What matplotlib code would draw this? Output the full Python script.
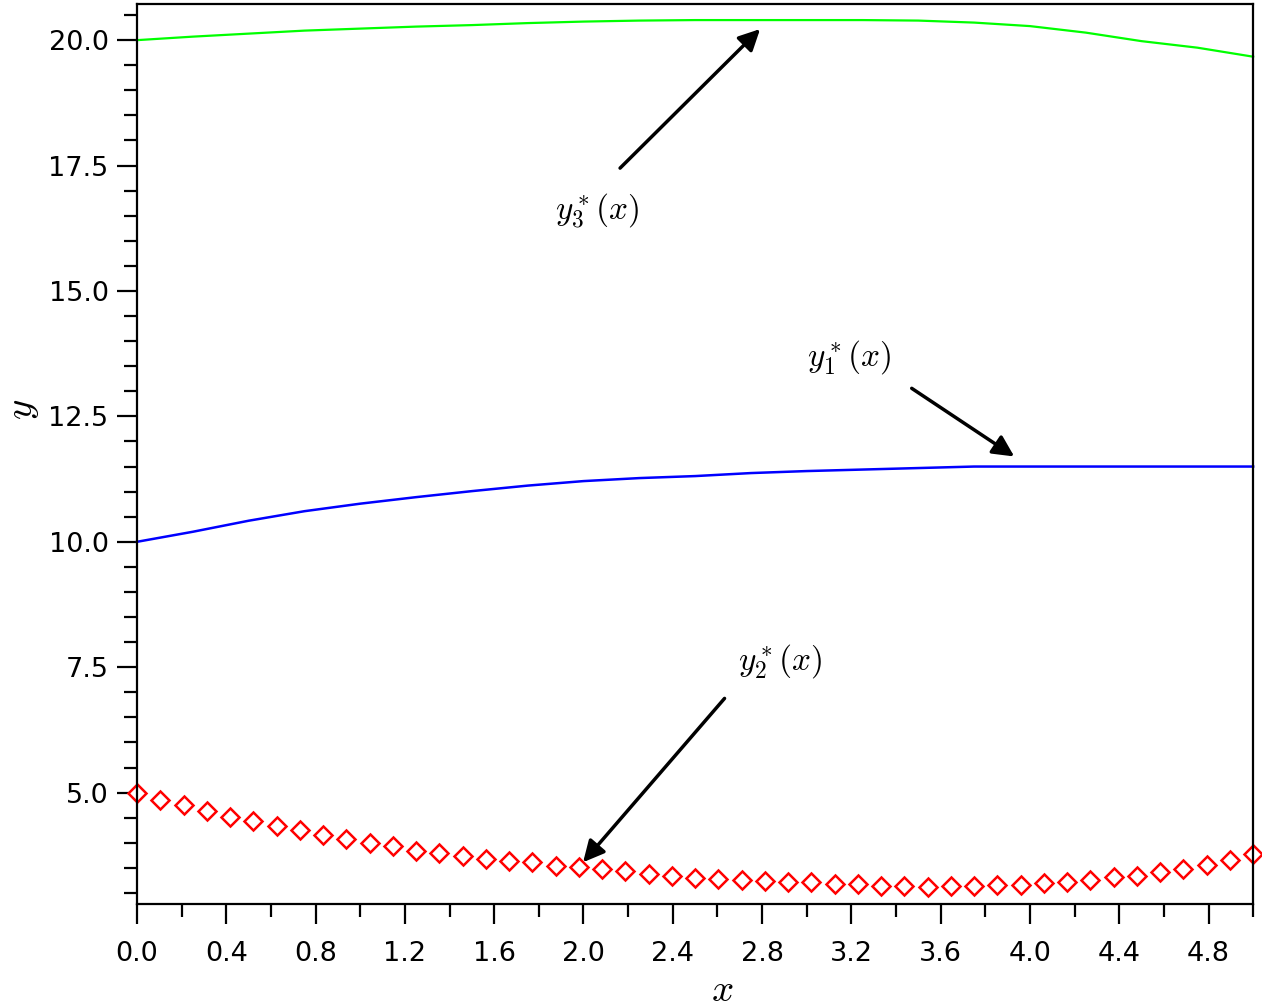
import numpy as np
import matplotlib.pyplot as plt

plt.rcParams['mathtext.fontset'] = 'cm'
plt.rcParams['font.family'] = 'DejaVu Sans'

# y1*(x) and y3*(x): continuous curves
x_line = [0.0, 0.25, 0.5, 0.75, 1.0, 1.25, 1.5, 1.75, 2.0, 2.25, 2.5,
          2.75, 3.0, 3.25, 3.5, 3.75, 4.0, 4.25, 4.5, 4.75, 5.0]
y1 = [10.00, 10.20, 10.42, 10.61, 10.76, 10.89, 11.01, 11.12, 11.21, 11.27, 11.31,
      11.37, 11.41, 11.44, 11.47, 11.50, 11.50, 11.50, 11.50, 11.50, 11.50]
y3 = [20.00, 20.07, 20.13, 20.19, 20.23, 20.27, 20.30, 20.34, 20.37, 20.39, 20.40,
      20.40, 20.40, 20.40, 20.39, 20.35, 20.28, 20.15, 19.98, 19.85, 19.67]

# y2*(x): point markers, 49 points over [0, 5]
x_pts = np.linspace(0, 5, 49)
y2 = [5.00, 4.85, 4.75, 4.63, 4.52, 4.43, 4.33, 4.25, 4.16, 4.07,
      3.99, 3.93, 3.84, 3.80, 3.74, 3.67, 3.64, 3.61, 3.54, 3.51,
      3.47, 3.43, 3.38, 3.34, 3.29, 3.27, 3.25, 3.24, 3.21, 3.21,
      3.17, 3.17, 3.14, 3.13, 3.12, 3.13, 3.13, 3.16, 3.16, 3.19,
      3.21, 3.25, 3.31, 3.34, 3.42, 3.47, 3.56, 3.65, 3.77]

fig = plt.figure(figsize=(12.62, 10.07), dpi=100)
ax = fig.add_axes([0.1086, 0.1023, 0.8844, 0.8937])

ax.plot(x_line, y3, color='#00ff00', lw=1.6, clip_on=False)
ax.plot(x_line, y1, color='#0000ff', lw=1.8, clip_on=False)
ax.plot(x_pts, y2, linestyle='none', marker='D', markersize=9,
        markerfacecolor='white', markeredgecolor='#ff0000', markeredgewidth=1.8,
        clip_on=False)

ax.set_xlim(0, 5)
ax.set_ylim(2.78, 20.72)
ax.set_xticks(np.arange(0, 4.81, 0.4))
ax.set_xticks(np.arange(0, 5.01, 0.2), minor=True)
ax.set_xticklabels(['%.1f' % v for v in np.arange(0, 4.81, 0.4)])
ax.set_yticks(np.arange(5, 20.1, 2.5))
ax.set_yticks(np.arange(3, 20.6, 0.5), minor=True)
ax.set_yticklabels(['%.1f' % v for v in np.arange(5, 20.1, 2.5)])

ax.tick_params(which='major', length=14.5, width=1.6, labelsize=19.5)
ax.tick_params(which='minor', length=9.5, width=1.6)
ax.tick_params(axis='x', which='both', pad=12)
ax.tick_params(axis='y', which='both', pad=6)
for s in ax.spines.values():
    s.set_linewidth(1.6)

ax.set_xlabel('$x$', fontsize=28)
ax.xaxis.set_label_coords(0.524, -0.075)
ax.set_ylabel('$y$', fontsize=28)
ax.yaxis.set_label_coords(-0.086, 0.55)

arrow = dict(arrowstyle='-|>', color='black', lw=2.5, mutation_scale=32)
ax.annotate('', xy=(2.80, 20.26), xytext=(2.155, 17.41), arrowprops=arrow)
ax.annotate('', xy=(3.94, 11.67), xytext=(3.46, 13.09), arrowprops=arrow)
ax.annotate('', xy=(1.99, 3.57), xytext=(2.64, 6.92), arrowprops=arrow)

ax.text(2.06, 16.61, '$y_3^*(x)$', fontsize=24, ha='center', va='center')
ax.text(3.19, 13.67, '$y_1^*(x)$', fontsize=24, ha='center', va='center')
ax.text(2.88, 7.61, '$y_2^*(x)$', fontsize=24, ha='center', va='center')

fig.savefig('out.png', dpi=100)
